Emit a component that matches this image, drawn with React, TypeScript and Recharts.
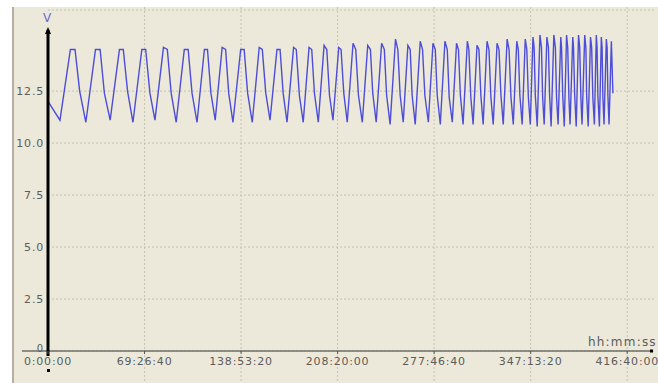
import React from 'react';
import { LineChart, Line, XAxis, YAxis, CartesianGrid, ReferenceLine } from 'recharts';

// elapsed time in thousands of seconds
const timeKs = [
  0,
  31, 58, 70, 82,
  98, 123, 135, 146,
  161, 185, 195, 206,
  220, 243, 253, 264,
  277, 299, 309, 319,
  332, 353, 363, 373,
  386, 405, 413, 422,
  433, 451, 460, 468,
  479, 499, 508, 517,
  529, 547, 555, 564,
  575, 593, 601, 609,
  619, 636, 643, 651,
  661, 676, 683, 690,
  700, 715, 722, 729,
  738, 753, 759, 766,
  775, 790, 797, 804,
  814, 828, 835, 841,
  850, 864, 871, 877,
  886, 900, 906, 912,
  920, 932, 938, 943,
  951, 964, 970, 976,
  985, 997, 1003, 1008,
  1016, 1028, 1034, 1039,
  1047, 1058, 1063, 1068,
  1075, 1086, 1090, 1095,
  1101, 1111, 1116, 1121,
  1127, 1137, 1142, 1147,
  1153, 1163, 1168, 1173,
  1179, 1189, 1194, 1199,
  1205, 1214, 1218, 1222,
  1228, 1236, 1240, 1244,
  1249, 1256, 1259, 1262,
  1267, 1274, 1278, 1281,
  1285, 1292, 1296, 1299,
  1303, 1310, 1314, 1317,
  1321, 1328, 1330, 1333,
  1337, 1343, 1346, 1349,
  1352, 1359, 1361, 1364,
  1368, 1374, 1377, 1380,
  1383, 1390, 1393, 1395,
  1399, 1405, 1408, 1411,
  1415, 1420, 1422, 1424,
  1428, 1433, 1435, 1437,
  1440, 1446, 1448, 1450,
  1453, 1459, 1463,
];

// battery voltage, V
const volts = [
  12.0,
  11.1, 14.5, 14.5, 12.5,
  11.0, 14.5, 14.5, 12.4,
  11.1, 14.5, 14.5, 12.5,
  11.0, 14.5, 14.5, 12.4,
  11.1, 14.6, 14.5, 12.4,
  11.0, 14.5, 14.5, 12.4,
  11.0, 14.5, 14.5, 12.4,
  11.1, 14.6, 14.5, 12.4,
  11.0, 14.5, 14.5, 12.4,
  11.0, 14.6, 14.5, 12.4,
  11.1, 14.5, 14.5, 12.4,
  11.0, 14.6, 14.5, 12.3,
  11.0, 14.6, 14.5, 12.4,
  11.0, 14.7, 14.5, 12.3,
  11.1, 14.6, 14.5, 12.4,
  11.0, 14.8, 14.5, 12.3,
  11.0, 14.7, 14.5, 12.4,
  11.0, 14.8, 14.5, 12.3,
  10.9, 15.0, 14.5, 12.3,
  11.0, 14.7, 14.5, 12.3,
  10.9, 14.9, 14.5, 12.3,
  11.0, 14.8, 14.5, 12.3,
  10.9, 14.9, 14.5, 12.2,
  11.0, 14.8, 14.5, 12.3,
  10.9, 14.9, 14.5, 12.2,
  10.9, 14.7, 14.5, 12.3,
  10.9, 14.9, 14.5, 12.2,
  10.9, 14.8, 14.5, 12.3,
  10.9, 15.0, 14.5, 12.2,
  10.9, 14.9, 14.5, 12.3,
  10.9, 15.0, 14.5, 12.2,
  10.9, 15.1, 14.6, 12.3,
  10.8, 15.2, 14.6, 12.2,
  10.9, 15.1, 14.6, 12.3,
  10.8, 15.2, 14.6, 12.2,
  10.9, 15.1, 14.6, 12.3,
  10.8, 15.2, 14.6, 12.2,
  10.9, 15.1, 14.6, 12.3,
  10.8, 15.2, 14.6, 12.2,
  10.9, 15.2, 14.6, 12.3,
  10.8, 15.1, 14.6, 12.2,
  10.9, 15.2, 14.6, 12.3,
  10.8, 15.1, 14.6, 12.2,
  10.9, 15.0, 14.6, 12.3,
  10.9, 14.9, 12.4,
];

const xTicks = [0, 250, 500, 750, 1000, 1250, 1500];
const yTicks = [0, 2.5, 5, 7.5, 10, 12.5];

const data = timeKs.map((t, i) => ({ t, v: volts[i] }));

const pad = (n: number) => String(n).padStart(2, '0');
const fmtTime = (ks: number) => {
  const s = Math.round(ks * 1000);
  const h = Math.floor(s / 3600);
  const m = Math.floor((s % 3600) / 60);
  return `${h}:${pad(m)}:${pad(s % 60)}`;
};

const FONT = '"DejaVu Sans", sans-serif';
const tickStyle = { fill: '#5c5c5c', fontSize: 11, fontFamily: FONT, letterSpacing: 0.8 };
const GRID = '#c6c2b0';

// voltage tick labels; the zero label sits a bit higher so it clears the time labels
const VoltTick = (p: any) => {
  const v = p.payload.value;
  return (
    <text
      x={p.x}
      y={p.y + (v === 0 ? -3 : 0)}
      dy="0.355em"
      textAnchor="end"
      fill={tickStyle.fill}
      fontSize={v === 0 ? 10 : tickStyle.fontSize}
      fontFamily={FONT}
      letterSpacing={tickStyle.letterSpacing}
    >
      {v === 0 ? '0' : v.toFixed(1)}
    </text>
  );
};

// dotted time grid line running the full height of the panel
const TimeGridLine = (p: any) => (
  <line
    x1={p.x1}
    y1={Math.min(p.y1, p.y2) - 3}
    x2={p.x2}
    y2={Math.max(p.y1, p.y2) + 32}
    stroke={GRID}
    strokeDasharray="2 2"
  />
);

// thick vertical axis with arrow head and unit label
const VoltAxis = (p: any) => {
  const x = p.x1;
  const top = Math.min(p.y1, p.y2) + 20;
  const bottom = Math.max(p.y1, p.y2);
  return (
    <g>
      <line x1={x} y1={top} x2={x} y2={bottom + 5} stroke="#000" strokeWidth={3} />
      <path d={`M${x - 3},${top + 4} L${x},${top - 3} L${x + 3},${top + 4} Z`} fill="#000" />
      <rect x={x - 1} y={bottom + 18} width={3} height={3} fill="#000" />
      <text x={x - 1} y={top - 8} textAnchor="middle" fill="#6a6ad6" fontSize={12} fontFamily={FONT}>V</text>
    </g>
  );
};

// time axis line, drawn a little past the left edge
const TimeAxis = (p: any) => {
  const left = Math.min(p.x1, p.x2);
  const right = Math.max(p.x1, p.x2);
  const y = p.y1;
  return (
    <g>
      <line x1={left - 26} y1={y} x2={right - 3} y2={y} stroke="#6e6e6a" strokeWidth={1.5} />
      <rect x={right - 5} y={y - 1.5} width={3} height={3} fill="#000" />
      <text x={right - 67} y={y - 5} fill="#5c5c5c" fontSize={12} fontFamily={FONT} letterSpacing={1.2}>hh:mm:ss</text>
    </g>
  );
};

const App: React.FC = () => {
  return (
    <div style={{ position: 'absolute', left: 0, top: 0, width: 658, height: 383, background: '#fff', overflow: 'hidden' }}>
      <div
        style={{
          position: 'absolute',
          left: 12,
          top: 7,
          width: 646,
          height: 376,
          background: '#ECE9DA',
          borderLeft: '2px solid #b4b1a4',
          boxSizing: 'border-box',
        }}
      />
      <LineChart
        width={658}
        height={383}
        data={data}
        margin={{ top: 10, right: 3, left: 12, bottom: 0 }}
        style={{ position: 'absolute', left: 0, top: 0, overflow: 'visible' }}
      >
        <CartesianGrid stroke={GRID} strokeDasharray="2 2" vertical={false} />
        {xTicks.slice(1).map((t) => (
          <ReferenceLine key={t} x={t} shape={TimeGridLine} />
        ))}
        <XAxis
          type="number"
          dataKey="t"
          domain={[0, 1572]}
          ticks={xTicks}
          interval={0}
          tickFormatter={fmtTime}
          height={32}
          axisLine={false}
          tickLine={{ stroke: '#555' }}
          tickSize={3}
          tickMargin={3}
          tick={tickStyle}
        />
        <YAxis
          type="number"
          domain={[0, 16.4]}
          ticks={yTicks}
          interval={0}
          width={36}
          axisLine={false}
          tickLine={false}
          tickSize={0}
          tickMargin={4}
          tick={VoltTick}
        />
        <Line
          type="linear"
          dataKey="v"
          stroke="#4d4dd8"
          strokeWidth={1.4}
          dot={false}
          activeDot={false}
          isAnimationActive={false}
        />
        <ReferenceLine y={0} shape={TimeAxis} />
        <ReferenceLine x={0} shape={VoltAxis} />
      </LineChart>
    </div>
  );
};

export default App;
